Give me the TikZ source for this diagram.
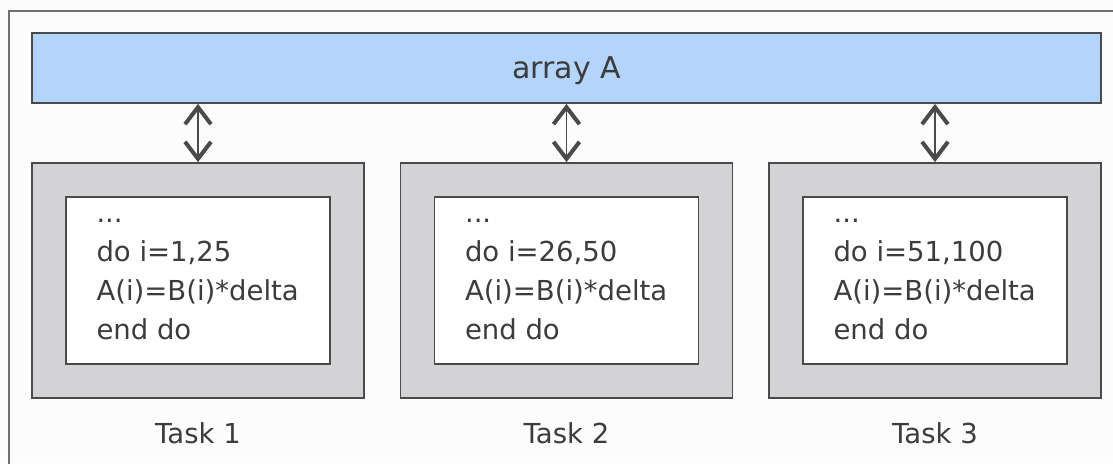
\documentclass[tikz,border=0pt]{standalone}
\usepackage{fontspec}
\setmainfont{DejaVu Sans}
\usetikzlibrary{arrows.meta}

\definecolor{arrayblue}{HTML}{B3D5FB}
\definecolor{taskgray}{HTML}{D3D3D5}
\definecolor{edgegray}{HTML}{4A4A4A}
\definecolor{framegray}{HTML}{707070}
\definecolor{inkgray}{HTML}{3C3C3C}
\definecolor{paper}{HTML}{FCFCFC}

\tikzset{
    arraybar/.style={draw=edgegray, line width=0.9pt, fill=arrayblue, text=inkgray,
        minimum width=534.5pt, minimum height=35pt, inner sep=0pt,
        text height=12pt, text depth=2pt, font=\fontsize{15}{19.5}\selectfont},
    taskbox/.style={draw=edgegray, line width=0.9pt, fill=taskgray,
        minimum width=166pt, minimum height=117.5pt, inner sep=0pt},
    codebox/.style={draw=edgegray, line width=0.9pt, fill=white,
        minimum width=132pt, minimum height=83.5pt, inner sep=0pt},
    codetext/.style={text=inkgray, align=left, inner sep=0pt,
        font=\fontsize{13.75}{19.5}\selectfont},
    tasklabel/.style={text=inkgray, inner sep=0pt, font=\fontsize{13.75}{19.5}\selectfont},
    dblarrow/.style={draw=edgegray, line width=0.7pt,
        {Straight Barb[length=8.5pt,width=13pt,line width=2pt]}-{Straight Barb[length=8.5pt,width=13pt,line width=2pt]}}
}

\begin{document}
\begin{tikzpicture}[x=0.5pt,y=-0.5pt]
    \useasboundingbox (0,0) rectangle (1113,463);
    \fill[paper] (0,0) rectangle (1113,463);
    % outer frame, runs off the right and bottom edges
    \draw[framegray, line width=0.8pt] (9,480) -- (9,11) -- (1130,11);

    \node[arraybar] (arr) at (566.5,68) {array A};

    \foreach \t/\x/\lo/\hi in {1/198/1/25, 2/566.5/26/50, 3/935/51/100} {
        \node[taskbox] (task\t) at (\x,280.5) {};
        \node[codebox] (code\t) at (\x,280.5) {};
        \node[codetext, anchor=north west] (src\t) at ([xshift=15.5pt,yshift=0.6pt]code\t.north west)
            {\strut...\\\strut do i=\lo,\hi\\\strut A(i)=B(i)*delta\\\strut end do};
        \node[tasklabel] (lab\t) at (\x,433) {Task \t};
        \draw[dblarrow] (arr.south -| task\t.north) -- (task\t.north);
    }
\end{tikzpicture}
\end{document}
